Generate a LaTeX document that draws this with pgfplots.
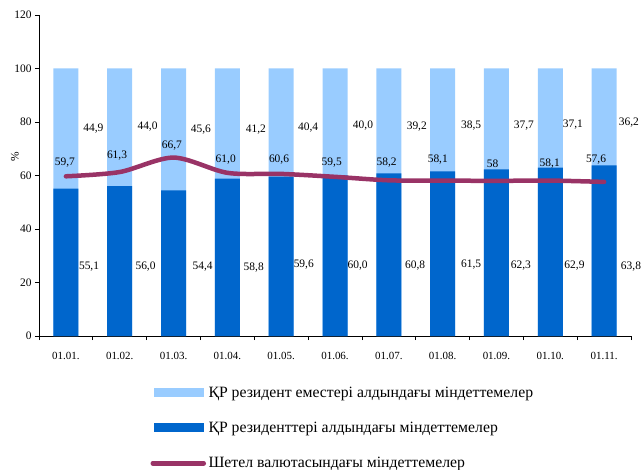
\documentclass[border=0pt]{standalone}
\usepackage{pgfplots}
\pgfplotsset{compat=1.18}
\usepackage{pgfplotstable}
\usepackage{fontspec}
\setmainfont{Liberation Serif}
\definecolor{lightb}{RGB}{153,204,255}
\definecolor{darkb}{RGB}{0,102,204}
\definecolor{linec}{RGB}{153,51,102}

\pgfplotstableread{
x    y     l
0    55.1  55,1
1    56.0  56,0
2    54.4  54,4
3    58.8  58,8
4    59.6  59,6
5    60.0  60,0
6    60.8  60,8
7    61.5  61,5
8    62.3  62,3
9    62.9  62,9
10   63.8  63,8
}\darktab

\pgfplotstableread{
x    y     l
0    59.7  59,7
1    61.3  61,3
2    66.7  66,7
3    61.0  61,0
4    60.6  60,6
5    59.5  59,5
6    58.2  58,2
7    58.1  58,1
8    58.0  58
9    58.1  58,1
10   57.6  57,6
}\linetab

% label positions
\pgfplotstableread{
x      y     l
0.43   25.9  55,1
1.48   25.9  56,0
2.54   25.9  54,4
3.49   25.5  58,8
4.42   26.8  59,6
5.42   26.3  60,0
6.49   26.3  60,8
7.53   26.8  61,5
8.455  26.5  62,3
9.45   26.2  62,9
10.5   25.9  63,8
}\darklab

\pgfplotstableread{
x      y     l
0.51   77.6  44,9
1.517  78.2  44,0
2.508  77.0  45,6
3.53   77.0  41,2
4.50   77.9  40,4
5.52   78.5  40,0
6.52   78.1  39,2
7.53   78.5  38,5
8.51   78.6  37,7
9.42   79.1  37,1
10.46  79.6  36,2
}\lightlab

\pgfplotstableread{
x      y     l
-0.02  64.9  59,7
0.95   67.4  61,3
1.97   71.1  66,7
2.97   65.8  61,0
3.96   65.8  60,6
4.94   64.9  59,5
5.96   64.9  58,2
6.91   66.0  58,1
7.93   64.3  58
8.99   64.6  58,1
9.85   65.8  57,6
}\linelab

\begin{document}
\begin{tikzpicture}
\begin{axis}[
  name=ax,
  scale only axis, width=592bp, height=321bp,
  xmin=-0.5, xmax=10.5, ymin=0, ymax=120,
  clip=false,
  axis lines*=left,
  axis line style={line width=0.7bp, black},
  tick style={line width=0.7bp, black},
  major tick length=4bp,
  tick align=outside,
  ytick={0,20,40,60,80,100,120},
  yticklabel style={font=\fontsize{11.5}{12}\selectfont},
  xtick={-0.5,0.5,1.5,2.5,3.5,4.5,5.5,6.5,7.5,8.5,9.5,10.5},
  xticklabels={},
  extra x ticks={0,1,2,3,4,5,6,7,8,9,10},
  extra x tick labels={01.01.,01.02.,01.03.,01.04.,01.05.,01.06.,01.07.,01.08.,01.09.,01.10.,01.11.},
  extra x tick style={tick style={draw=none}, xticklabel style={font=\fontsize{11}{12}\selectfont, yshift=-9bp}},
  /pgf/number format/assume math mode=true,
  ylabel={\%},
  ylabel style={at={(axis description cs:0,0.558)}, anchor=center, yshift=24bp, font=\fontsize{11.5}{12}\selectfont},
  legend style={at={(rel axis cs:0.183,-0.143)}, anchor=north west, draw=none, fill=none,
    font=\fontsize{15.8}{17}\selectfont, row sep=18.5bp,
    nodes={inner sep=2.5bp}},
  legend cell align=left,
]
\addplot[ybar, bar width=25bp, bar shift=0pt, fill=lightb, draw=none,
  legend image code/.code={\fill[lightb] (0bp,-4.5bp) rectangle (50bp,4.5bp);}]
  table[x=x, y expr=100] {\darktab};
\addlegendentry{ҚР резидент еместері алдындағы міндеттемелер}
\addplot[ybar, bar width=25bp, bar shift=0pt, fill=darkb, draw=none,
  legend image code/.code={\fill[darkb] (0bp,-4.5bp) rectangle (50bp,4.5bp);}]
  table[x=x, y=y] {\darktab};
\addlegendentry{ҚР резиденттері алдындағы міндеттемелер}
\addplot[smooth, linec, line width=4.5bp, line cap=round, mark=none,
  legend image code/.code={\draw[linec, line width=4.5bp, line cap=round] (-1bp,0bp) -- (50bp,0bp);}]
  table[x=x, y=y] {\linetab};
\addlegendentry{Шетел валютасындағы міндеттемелер}

\addplot[draw=none, mark=none, forget plot, nodes near coords, point meta=explicit symbolic,
  nodes near coords align=center,
  every node near coord/.append style={anchor=center, inner sep=0pt, font=\fontsize{11.5}{12}\selectfont, text=black}]
  table[x=x, y=y, meta=l] {\darklab};
\addplot[draw=none, mark=none, forget plot, nodes near coords, point meta=explicit symbolic,
  nodes near coords align=center,
  every node near coord/.append style={anchor=center, inner sep=0pt, font=\fontsize{11.5}{12}\selectfont, text=black}]
  table[x=x, y=y, meta=l] {\lightlab};
\addplot[draw=none, mark=none, forget plot, nodes near coords, point meta=explicit symbolic,
  nodes near coords align=center,
  every node near coord/.append style={anchor=center, inner sep=0pt, font=\fontsize{11.5}{12}\selectfont, text=black}]
  table[x=x, y=y, meta=l] {\linelab};
\end{axis}
\pgfresetboundingbox
\useasboundingbox ([shift={(-39bp,-134bp)}]ax.south west) rectangle ([shift={(604bp,336bp)}]ax.south west);
\end{tikzpicture}
\end{document}
